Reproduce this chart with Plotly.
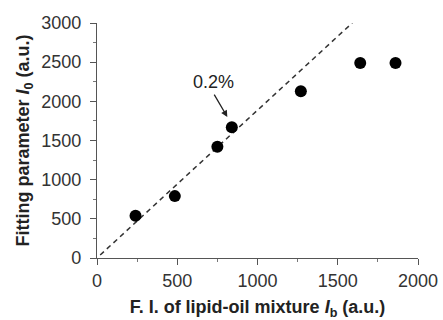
import plotly.graph_objects as go

x_vals = [240, 485, 750, 840, 1270, 1640, 1860]
y_vals = [540, 790, 1420, 1670, 2130, 2490, 2490]
fit_x = [20, 1590]
fit_y = [38, 3000]
x_ticks = [0, 500, 1000, 1500, 2000]
y_ticks = [0, 500, 1000, 1500, 2000, 2500, 3000]

font = "Liberation Sans, Arial, sans-serif"

fig = go.Figure()
fig.add_trace(go.Scatter(x=fit_x, y=fit_y, mode="lines",
                         line=dict(color="#333333", width=1.5, dash="5px,4px"),
                         hoverinfo="skip", showlegend=False))
fig.add_trace(go.Scatter(x=x_vals, y=y_vals, mode="markers",
                         marker=dict(color="black", size=12),
                         showlegend=False))

fig.add_annotation(x=812, y=1800, ax=725, ay=2104, axref="x", ayref="y",
                   xref="x", yref="y", text="", showarrow=True,
                   arrowhead=2, arrowsize=1, arrowwidth=1.3, arrowcolor="#222")
fig.add_annotation(x=725, y=2250, xref="x", yref="y", text="0.2%",
                   showarrow=False, font=dict(family=font, size=18, color="#222"))

axis_common = dict(showline=True, linecolor="#555", linewidth=1.3,
                   ticks="outside", ticklen=6, tickwidth=1.3, tickcolor="#555",
                   showgrid=False, zeroline=False, mirror=False, automargin=False,
                   tickfont=dict(family=font, size=18, color="#333"),
                   minor=dict(ticks="outside", ticklen=3, tickwidth=1, tickcolor="#777", showgrid=False))

fig.update_xaxes(range=[0, 2000], tickvals=x_ticks, minor_dtick=250,
                 title=dict(text="<b>F. I. of lipid-oil mixture <i>I</i><sub>b</sub> (a.u.)</b>",
                            font=dict(family=font, size=18, color="#222"), standoff=15),
                 **axis_common)
fig.update_yaxes(range=[0, 3000], tickvals=y_ticks, minor_dtick=250, ticklabelstandoff=5,
                 title=dict(text="<b>Fitting parameter <i>I</i><sub>0</sub> (a.u.)</b>",
                            font=dict(family=font, size=18, color="#222"), standoff=6),
                 **axis_common)

fig.update_layout(width=443, height=320, margin=dict(l=97, r=25, t=23, b=62),
                  plot_bgcolor="white", paper_bgcolor="white")

fig.write_html("out.html")
